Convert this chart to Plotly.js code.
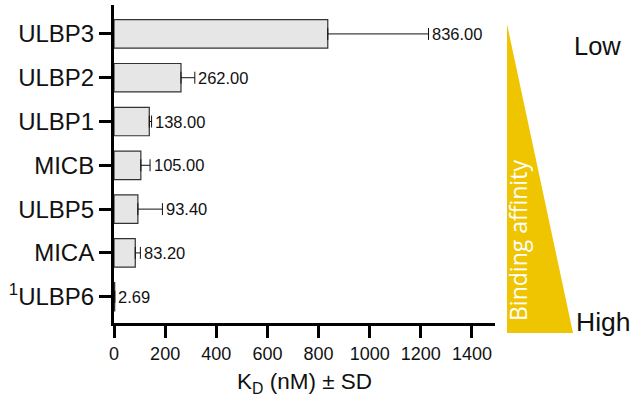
<!DOCTYPE html>
<html>
<head>
<meta charset="utf-8">
<script src="https://cdn.plot.ly/plotly-3.0.1.min.js"></script>
<style>html,body{margin:0;padding:0;background:#fff;}#chart{width:634px;height:405px;}</style>
</head>
<body>
<div id="chart"></div>
<script>
// Data (top to bottom in the chart)
var categories = ['ULBP3', 'ULBP2', 'ULBP1', 'MICB', 'ULBP5', 'MICA', '<sup>1</sup>ULBP6'];
var kdValues = [836.00, 262.00, 138.00, 105.00, 93.40, 83.20, 2.69];
var sdValues = [394, 54, 9, 36, 96, 20, 0];
var valueLabels = ['836.00', '262.00', '138.00', '105.00', '93.40', '83.20', '2.69'];
var xTicks = [0, 200, 400, 600, 800, 1000, 1200, 1400];

var font = 'Liberation Sans, Arial, Helvetica, sans-serif';
var zeros = sdValues.map(function () { return 0; });

var trace = {
  type: 'bar',
  orientation: 'h',
  x: kdValues,
  y: categories,
  width: 0.65,
  marker: { color: '#e6e6e6', line: { color: '#333333', width: 1.2 } },
  error_x: {
    type: 'data', symmetric: false, array: sdValues, arrayminus: zeros,
    color: '#111111', thickness: 1, width: 6
  },
  hoverinfo: 'skip'
};

var annotations = categories.map(function (c, i) {
  return {
    x: kdValues[i] + sdValues[i], y: c, xref: 'x', yref: 'y',
    text: valueLabels[i], showarrow: false, xanchor: 'left', yanchor: 'middle',
    xshift: 1.5, font: { family: font, size: 16.5, color: '#111' }
  };
});

// Decorative "binding affinity" wedge and labels (paper coordinates)
var L = 114, R = 495, T = 5, B = 323;
function px(x) { return (x - L) / (R - L); }
function py(y) { return (B - y) / (B - T); }

annotations.push({
  xref: 'paper', yref: 'paper', x: px(518), y: py(241), text: 'Binding affinity',
  showarrow: false, textangle: -90, xanchor: 'center', yanchor: 'middle',
  font: { family: 'Open Sans, Noto Sans, sans-serif', size: 23, color: '#ffffff' }
});
annotations.push({
  xref: 'paper', yref: 'paper', x: px(572), y: py(46), text: 'Low',
  showarrow: false, xanchor: 'left', yanchor: 'middle',
  font: { family: font, size: 25.5, color: '#111' }
});
annotations.push({
  xref: 'paper', yref: 'paper', x: px(574), y: py(322), text: 'High',
  showarrow: false, xanchor: 'left', yanchor: 'middle',
  font: { family: font, size: 26.5, color: '#111' }
});

var layout = {
  width: 634, height: 405,
  margin: { l: L, r: 634 - R, t: T, b: 405 - B },
  paper_bgcolor: '#ffffff', plot_bgcolor: '#ffffff',
  showlegend: false,
  font: { family: font, color: '#111' },
  xaxis: {
    range: [0, 1490], tickvals: xTicks, ticktext: xTicks.map(String),
    showgrid: false, zeroline: false, showline: true, linecolor: '#000', linewidth: 3,
    ticks: 'outside', ticklen: 12, tickwidth: 3, tickcolor: '#000',
    tickfont: { family: font, size: 18, color: '#111' },
    title: { text: 'K<sub>D</sub> (nM) ± SD', font: { family: font, size: 22.5, color: '#111' }, standoff: 11 }
  },
  yaxis: {
    type: 'category', categoryorder: 'array', categoryarray: categories.slice().reverse(),
    range: [-0.6, 6.66],
    showgrid: false, zeroline: false, showline: true, linecolor: '#000', linewidth: 3,
    ticks: 'outside', ticklen: 12, tickwidth: 3, tickcolor: '#000',
    tickfont: { family: font, size: 24, color: '#111' }
  },
  shapes: [{
    type: 'path', xref: 'paper', yref: 'paper',
    path: 'M ' + px(507) + ' ' + py(24) + ' L ' + px(507) + ' ' + py(333) + ' L ' + px(573) + ' ' + py(333) + ' Z',
    fillcolor: '#efc400', line: { width: 0 }, layer: 'below'
  }],
  annotations: annotations
};

Plotly.newPlot('chart', [trace], layout, { displayModeBar: false, staticPlot: true });
</script>
</body>
</html>
